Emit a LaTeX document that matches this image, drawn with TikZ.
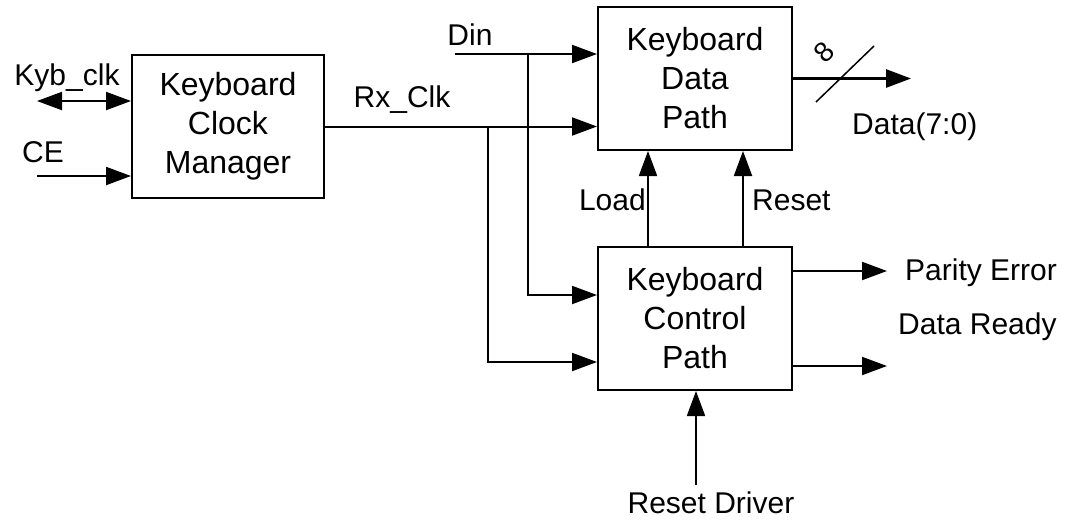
\documentclass[tikz,border=0pt]{standalone}
\usepackage{fontspec}
\setmainfont{Liberation Sans}
\usetikzlibrary{arrows.meta}

\tikzset{
    block/.style = {draw, line width = 2pt, minimum width = 194pt, minimum height = 143pt,
        align = center, inner sep = 0pt, font = \fontsize{32}{39}\selectfont},
    sig/.style = {inner sep = 0pt, font = \fontsize{30}{36}\selectfont},
    wire/.style = {line width = 2pt},
}

\begin{document}
\begin{tikzpicture}[x = 1pt, y = -1pt, > = {Triangle[length = 25pt, width = 18pt]}]

        % Fixed frame of the picture.
        \useasboundingbox (0, 0) rectangle (1072, 531);

        % The three blocks.
        \node[block, minimum width = 192pt] (clkmgr) at (228, 126.5) {Keyboard\\Clock\\Manager};
        \node[block] (datapath) at (695, 78.5) {Keyboard\\Data\\Path};
        \node[block] (ctrlpath) at (695, 318.5) {Keyboard\\Control\\Path};

        % Points where the wires start or branch.
        \coordinate (kybend) at (37, 101);
        \coordinate (ceend) at (37, 176);
        \coordinate (dinend) at (455, 54);
        \coordinate (dintap) at (528, 54);
        \coordinate (rxtap) at (488, 126.5);
        \coordinate (rstend) at (696, 485);
        \coordinate (perrend) at (887, 271);
        \coordinate (rdyend) at (887, 366);
        \coordinate (dataend) at (911, 78.5);

        % Inputs of the clock manager.
        \draw[wire, <->] (kybend) to (kybend -| clkmgr.west);
        \draw[wire, ->] (ceend) to (ceend -| clkmgr.west);

        % Din and Rx_Clk into both paths.
        \draw[wire, ->] (dinend) to (dinend -| datapath.west);
        \draw[wire, ->] (clkmgr.east) to (clkmgr.east -| datapath.west);
        \draw[wire, ->] (dintap) |- ([yshift = 23.5pt]ctrlpath.west);
        \draw[wire, ->] (rxtap) |- ([yshift = -43.5pt]ctrlpath.west);

        % Control path to data path.
        \draw[wire, ->] ([xshift = -47pt]ctrlpath.north) to ([xshift = -47pt]datapath.south);
        \draw[wire, ->] ([xshift = 48pt]ctrlpath.north) to ([xshift = 48pt]datapath.south);
        \draw[wire, ->] (rstend) to (rstend |- ctrlpath.south);

        % Outputs.
        \draw[wire, ->] ([yshift = 47.5pt]ctrlpath.east) to (perrend);
        \draw[wire, ->] ([yshift = -47.5pt]ctrlpath.east) to (rdyend);
        \draw[line width = 2.7pt, ->] (datapath.east) to (dataend);
        \draw[line width = 1.5pt] (816, 102) to (874, 46);

        % Signal names.
        \node[sig] (kyblbl) at (67, 78) {Kyb\_clk};
        \node[sig] (celbl) at (43, 152) {CE};
        \node[sig] (dinlbl) at (470, 35) {Din};
        \node[sig] (rxlbl) at (402, 100) {Rx\_Clk};
        \node[sig, anchor = east] (loadlbl) at (646, 200) {Load};
        \node[sig, anchor = west] (resetlbl) at (752, 200) {Reset};
        \node[sig] (rstdrvlbl) at (711, 503) {Reset Driver};
        \node[sig, anchor = west] (perrlbl) at (905, 273) {Parity Error};
        \node[sig, anchor = west] (rdylbl) at (898, 327) {Data Ready};
        \node[sig, anchor = west] (datalbl) at (852, 127) {Data(7:0)};
        \node[sig, rotate = 45, font = \fontsize{28}{32}\selectfont] (widthlbl) at (824, 52) {8};
    \end{tikzpicture}
\end{document}
